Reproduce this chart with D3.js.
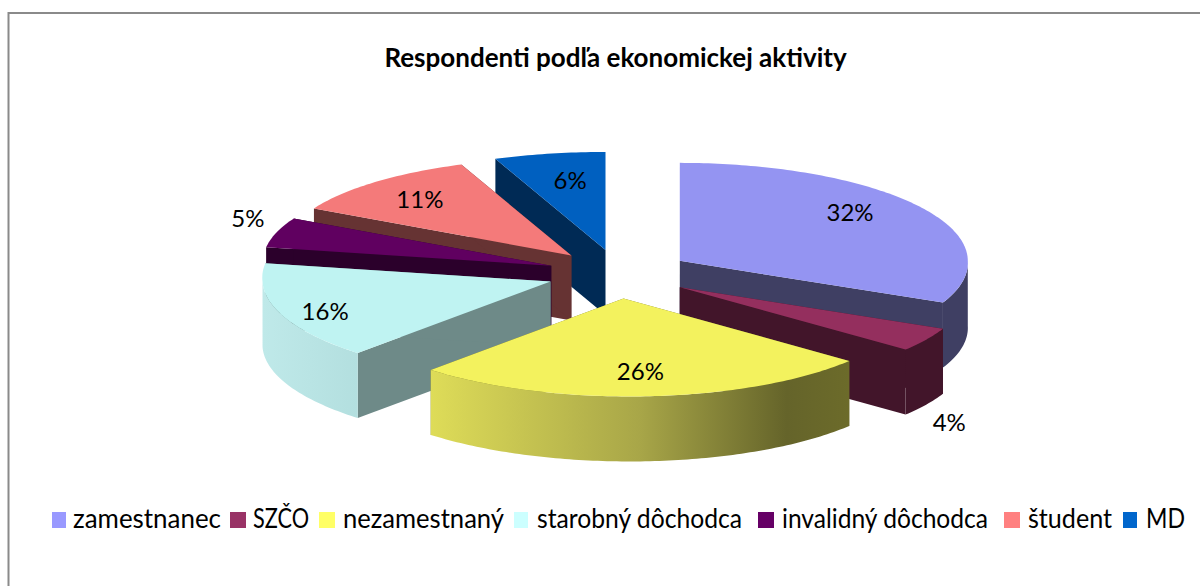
<!DOCTYPE html>
<html>
<head>
<meta charset="utf-8">
<script src="https://cdn.jsdelivr.net/npm/d3@7"></script>
<style>
  html, body { margin: 0; padding: 0; background: #fff; }
  svg { display: block; }
  text { font-family: Lato, "Open Sans", sans-serif; fill: #000; }
</style>
</head>
<body>
<svg id="chart" width="1200" height="586"></svg>
<script>
var chartTitle = "Respondenti podľa ekonomickej aktivity";
var categories = ["zamestnanec", "SZČO", "nezamestnaný", "starobný dôchodca", "invalidný dôchodca", "študent", "MD"];
var values = [32, 4, 26, 16, 5, 11, 6];

// colours per slice: top face, cut face, legend swatch, rim stops
var topColors = ["#9494f2", "#942f5e", "#f3f25e", "#bff3f2", "#600060", "#f47a7a", "#0060c0"];
var wallColors = ["#3f3f63", "#42152a", "#6a6a2a", "#6e8a88", "#2b002b", "#663333", "#002a55"];
var swatchColors = ["#9999ff", "#993366", "#ffff66", "#ccffff", "#660066", "#ff8080", "#0066cc"];
var rimStops = [
  [[0, "#3f3f63"], [1, "#3f3f63"]],
  [[0, "#42152a"], [1, "#42152a"]],
  [[0, "#dedc58"], [0.5, "#a8a648"], [0.85, "#65642a"], [1, "#6c6b2a"]],
  [[0, "#bfe9e9"], [1, "#b3dfdf"]],
  [[0, "#2b002b"], [1, "#2b002b"]],
  [[0, "#663333"], [1, "#663333"]],
  [[0, "#002a55"], [1, "#002a55"]]
];

// label offset from the point at 0.7 radius in the slice
var labelShift = [[0, -11], [97, 99], [0, 5], [-35, 9], [-111, -23], [-14, -4], [4, -2]];

// legend layout
var legendSwatchX = [52, 230, 319, 514, 758, 1004, 1123];
var legendSwatchW = [14, 16, 16, 14, 16, 16, 14];
var legendTextX = [73, 253, 343, 537, 782, 1028, 1146];
var legendTextW = [148, 56, 161, 205, 206, 84, 39];

var svg = d3.select("#chart");

var cx = 619, cy = 274, rx = 288, ry = 98, depth = 65, explode = 0.25;

var px = d3.scaleLinear().domain([-1, 1]).range([cx - rx, cx + rx]);
var py = d3.scaleLinear().domain([-1, 1]).range([cy - ry, cy + ry]);

var line = d3.line();

var pie = d3.pie().sort(null).value(function(d) { return d; });
var slices = pie(values);

slices.forEach(function(s, i) {
  s.i = i;
  s.mid = (s.startAngle + s.endAngle) / 2;
  s.ax = Math.sin(s.mid) * explode;
  s.ay = -Math.cos(s.mid) * explode;
});

// rough perspective: rim points drift right in front, left at the back-left
var skew = function(a) {
  if ( Math.cos(a) < 0 ) return -Math.cos(a) * 6;
  if ( Math.sin(a) < 0 ) return Math.sin(2 * a) * 6;
  return 0;
};

// position in a slice at angle a, radius r
var pt = function(s, a, r, down) {
  return [px(s.ax + Math.sin(a) * r) + skew(a) * r, py(s.ay - Math.cos(a) * r) + (down || 0)];
};

var arcPoints = function(s, a0, a1, down) {
  var n = Math.max(2, Math.ceil((a1 - a0) * 60));
  return d3.range(n + 1).map(function(k) {
    return pt(s, a0 + (a1 - a0) * k / n, 1, down);
  });
};

var defs = svg.append("defs");

rimStops.forEach(function(stops, i) {
  var g = defs.append("linearGradient").attr("id", "rim" + i);
  stops.forEach(function(st) {
    g.append("stop").attr("offset", st[0]).attr("stop-color", st[1]);
  });
});

// frame, cut off on the right and at the bottom
svg.append("path")
  .attr("d", line([[8.5, 586], [8.5, 13], [1200, 13]]))
  .attr("fill", "none")
  .attr("stroke", "#8a8a8a")
  .attr("stroke-width", 2);

svg.append("text")
  .attr("x", 615.5)
  .attr("y", 67)
  .attr("text-anchor", "middle")
  .attr("font-size", 26)
  .attr("font-weight", 700)
  .text(chartTitle);

// back slices first
var order = slices.slice().sort(function(a, b) { return Math.cos(b.mid) - Math.cos(a.mid); });

order.forEach(function(s) {
  var g = svg.append("g").attr("class", "slice");

  [s.startAngle, s.endAngle].forEach(function(a) {
    g.append("path")
      .attr("d", line([pt(s, a, 0), pt(s, a, 1), pt(s, a, 1, depth), pt(s, a, 0, depth)]) + "Z")
      .attr("fill", wallColors[s.i]);
  });

  // only the front half of the rim can be seen
  var a0 = Math.max(s.startAngle, Math.PI / 2);
  var a1 = Math.min(s.endAngle, Math.PI * 3 / 2);
  if ( a1 > a0 ) {
    var rim = arcPoints(s, a0, a1, 0).concat(arcPoints(s, a0, a1, depth).reverse());
    g.append("path")
      .attr("d", line(rim) + "Z")
      .attr("fill", "url(#rim" + s.i + ")");
  }

  var top = [pt(s, 0, 0)].concat(arcPoints(s, s.startAngle, s.endAngle, 0));
  g.append("path")
    .attr("d", line(top) + "Z")
    .attr("fill", topColors[s.i]);
});

// labels
var total = d3.sum(values);

svg.selectAll(".label")
  .data(slices)
  .enter().append("text")
  .attr("class", "label")
  .attr("x", function(d) { return pt(d, d.mid, 0.7)[0] + labelShift[d.i][0]; })
  .attr("y", function(d) { return pt(d, d.mid, 0.7)[1] + labelShift[d.i][1] + 8; })
  .attr("text-anchor", "middle")
  .attr("font-size", 24)
  .text(function(d) { return Math.round(d.value / total * 100) + "%"; });

// legend
var legend = svg.append("g").attr("class", "legend");

categories.forEach(function(c, i) {
  legend.append("rect")
    .attr("x", legendSwatchX[i]).attr("y", 512)
    .attr("width", legendSwatchW[i]).attr("height", 16)
    .attr("fill", swatchColors[i]);
  legend.append("text")
    .attr("x", legendTextX[i]).attr("y", 528)
    .attr("font-size", 26)
    .attr("textLength", legendTextW[i])
    .attr("lengthAdjust", "spacingAndGlyphs")
    .text(c);
});
</script>
</body>
</html>
